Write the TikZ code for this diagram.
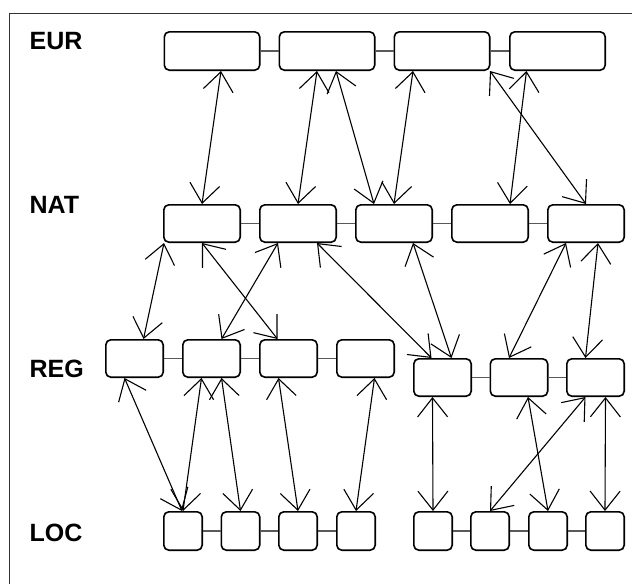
\documentclass[tikz,border=0pt]{standalone}
\usepackage{fontspec}
\setmainfont{Liberation Sans}
\usetikzlibrary{arrows.meta}

\begin{document}
\begin{tikzpicture}[x=1pt, y=-1pt, every node/.style={align=center, font=\fontsize{25}{30}\selectfont\bfseries},
  unit/.style={draw, fill=white, line width=1.6pt, rounded corners=5pt, inner sep=0pt},
  eurbox/.style={unit, minimum width=95.4pt, minimum height=38.4pt},
  natbox/.style={unit, minimum width=76.4pt, minimum height=37.4pt},
  regbox/.style={unit, minimum width=57.4pt, minimum height=37.4pt},
  locbox/.style={unit, minimum width=38.4pt, minimum height=38.4pt},
  link/.style={black!65, line width=1.2pt},
  flow/.style={line width=1.1pt, {Straight Barb[length=19pt,width=30pt]}-{Straight Barb[length=19pt,width=30pt]}}]
\useasboundingbox (0,0) rectangle (632,584);
\draw[black!80, line width=1pt] (632,13) -- (9,13) -- (9,584); % frame

\node[anchor=base west, inner sep=0pt] (eur) at (29.5,49.5) {EUR};
\node[anchor=base west, inner sep=0pt] (nat) at (29.5,213) {NAT};
\node[anchor=base west, inner sep=0pt] (reg) at (29.5,377) {REG};
\node[anchor=base west, inner sep=0pt] (loc) at (29.5,541) {LOC};

\node[eurbox] (eur1) at (212,51) {};
\node[eurbox] (eur2) at (327,51) {};
\node[eurbox] (eur3) at (442,51) {};
\node[eurbox] (eur4) at (557.5,51) {};

\node[natbox] (nat1) at (202,223.5) {};
\node[natbox] (nat2) at (298,223.5) {};
\node[natbox] (nat3) at (394,223.5) {};
\node[natbox] (nat4) at (490,223.5) {};
\node[natbox] (nat5) at (586,223.5) {};

\node[regbox] (reg1) at (134.5,358.5) {};
\node[regbox] (reg2) at (211.5,358.5) {};
\node[regbox] (reg3) at (288.5,358.5) {};
\node[regbox] (reg4) at (365.5,358.5) {};
\node[regbox] (reg5) at (442.5,377.5) {};
\node[regbox] (reg6) at (519,377.5) {};
\node[regbox] (reg7) at (595.5,377.5) {};

\node[locbox] (loc1) at (183,531) {};
\node[locbox] (loc2) at (240.5,531) {};
\node[locbox] (loc3) at (298,531) {};
\node[locbox] (loc4) at (356,531) {};
\node[locbox] (loc5) at (433,531) {};
\node[locbox] (loc6) at (490,531) {};
\node[locbox] (loc7) at (548,531) {};
\node[locbox] (loc8) at (605,531) {};

\draw[link] (eur1.east) -- (eur2.west);
\draw[link] (eur2.east) -- (eur3.west);
\draw[link] (eur3.east) -- (eur4.west);
\draw[link] (nat1.east) -- (nat2.west);
\draw[link] (nat2.east) -- (nat3.west);
\draw[link] (nat3.east) -- (nat4.west);
\draw[link] (nat4.east) -- (nat5.west);
\draw[link] (reg1.east) -- (reg2.west);
\draw[link] (reg2.east) -- (reg3.west);
\draw[link] (reg3.east) -- (reg4.west);
\draw[link] (reg5.east) -- (reg6.west);
\draw[link] (reg6.east) -- (reg7.west);
\draw[link] (loc1.east) -- (loc2.west);
\draw[link] (loc2.east) -- (loc3.west);
\draw[link] (loc3.east) -- (loc4.west);
\draw[link] (loc5.east) -- (loc6.west);
\draw[link] (loc6.east) -- (loc7.west);
\draw[link] (loc7.east) -- (loc8.west);

% EUR - NAT
\draw[flow] ([xshift=9pt]eur1.south) -- (nat1.north);
\draw[flow] ([xshift=-10pt]eur2.south) -- (nat2.north);
\draw[flow] ([xshift=9pt]eur2.south) -- ([xshift=-20pt]nat3.north);
\draw[flow] ([xshift=-29pt]eur3.south) -- (nat3.north);
\draw[flow] ([xshift=-31pt]eur4.south) -- ([xshift=20pt]nat4.north);
\draw[flow] ([xshift=48pt]eur3.south) -- (nat5.north);

% NAT - REG
\draw[flow] ([xshift=-38pt]nat1.south) -- ([xshift=9pt]reg1.north);
\draw[flow] (nat1.south) -- ([xshift=-11pt]reg3.north);
\draw[flow] ([xshift=-20pt]nat2.south) -- ([xshift=10pt]reg2.north);
\draw[flow] ([xshift=19pt]nat2.south) -- ([xshift=-11pt]reg5.north);
\draw[flow] ([xshift=19pt]nat3.south) -- ([xshift=9pt]reg5.north);
\draw[flow] ([xshift=-20pt]nat5.south) -- ([xshift=-10pt]reg6.north);
\draw[flow] ([xshift=12pt]nat5.south) -- ([xshift=-10pt]reg7.north);

% REG - LOC
\draw[flow] ([xshift=-10pt]reg1.south) -- ([xshift=-1pt]loc1.north);
\draw[flow] ([xshift=-10pt]reg2.south) -- (loc1.north);
\draw[flow] ([xshift=10pt]reg2.south) -- (loc2.north);
\draw[flow] ([xshift=-10pt]reg3.south) -- (loc3.north);
\draw[flow] ([xshift=9pt]reg4.south) -- (loc4.north);
\draw[flow] ([xshift=-10pt]reg5.south) -- (loc5.north);
\draw[flow] ([xshift=9pt]reg6.south) -- (loc7.north);
\draw[flow] ([xshift=-10pt]reg7.south) -- (loc6.north);
\draw[flow] ([xshift=10pt]reg7.south) -- (loc8.north);
\end{tikzpicture}
\end{document}
